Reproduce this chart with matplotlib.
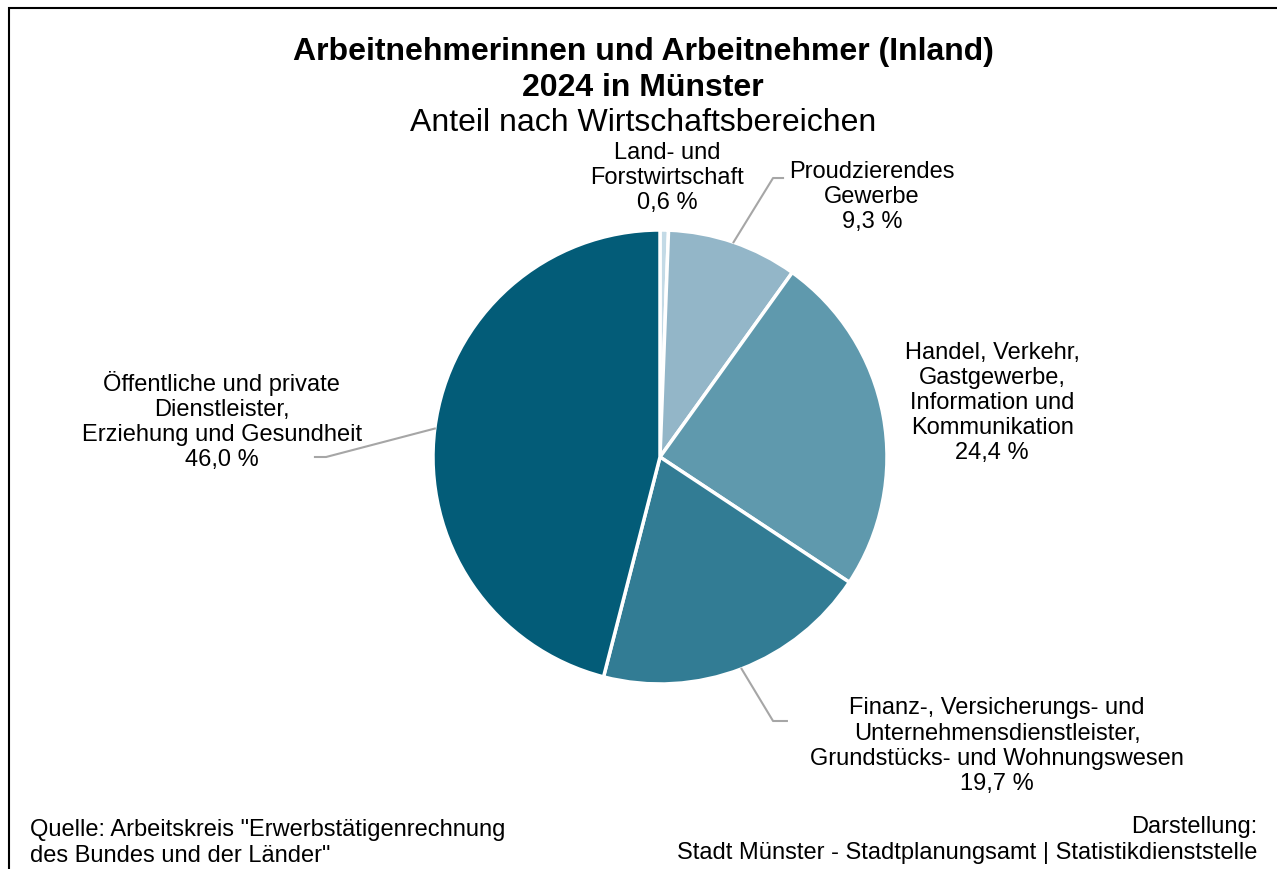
import numpy as np
import matplotlib.pyplot as plt
from matplotlib.patches import Rectangle

plt.rcParams['font.family'] = ['Liberation Sans', 'DejaVu Sans']

# data
labels = ['Land- und\nForstwirtschaft',
          'Proudzierendes\nGewerbe',
          'Handel, Verkehr,\nGastgewerbe,\nInformation und\nKommunikation',
          'Finanz-, Versicherungs- und\nUnternehmensdienstleister,\nGrundstücks- und Wohnungswesen',
          'Öffentliche und private\nDienstleister,\nErziehung und Gesundheit']
shares = [0.6, 9.3, 24.4, 19.7, 46.0]
colors = ['#c3dae6', '#93b6c8', '#5f99ad', '#327c94', '#035c78']

# label centre positions (data units, pie radius = 1)
label_pos = [(0.031, 1.233), (0.934, 1.150), (1.463, 0.242), (1.485, -1.269), (-1.930, 0.163)]
# elbow / end points of leader lines (None = no leader)
leaders = [None,
           [(0.498, 1.229), (0.542, 1.229)],
           None,
           [(0.498, -1.163), (0.559, -1.163)],
           [(-1.471, 0.0), (-1.520, 0.0)]]

W, H = 1277, 870
fig = plt.figure(figsize=(W / 100, H / 100), dpi=100)

# frame (left and top visible)
fig.patches.append(Rectangle((9 / W, -0.05), 1.2, 1 - 9 / H + 0.05, transform=fig.transFigure,
                             fill=False, edgecolor='black', linewidth=1.5))

cx, cy, r = 660, 458, 227
ax = fig.add_axes([(cx - r) / W, (H - cy - r) / H, 2 * r / W, 2 * r / H])
wedges, _ = ax.pie(shares, colors=colors, startangle=90, counterclock=False, radius=1,
                   wedgeprops=dict(edgecolor='white', linewidth=2.5))
ax.set_xlim(-1, 1)
ax.set_ylim(-1, 1)
ax.set_aspect('equal')
ax.axis('off')

for i, w in enumerate(wedges):
    mid = np.deg2rad((w.theta1 + w.theta2) / 2)
    txt = labels[i] + '\n' + ('%.1f %%' % shares[i]).replace('.', ',')
    ax.text(label_pos[i][0], label_pos[i][1], txt, ha='center', va='center',
            multialignment='center', fontsize=17, linespacing=1.18, clip_on=False)
    if leaders[i] is not None:
        xs = [np.cos(mid)] + [p[0] for p in leaders[i]]
        ys = [np.sin(mid)] + [p[1] for p in leaders[i]]
        ax.plot(xs, ys, color='#a6a6a6', linewidth=1.5, clip_on=False)

fig.text(643 / W, 1 - 52 / H, 'Arbeitnehmerinnen und Arbeitnehmer (Inland)', ha='center', va='center',
         fontsize=23, fontweight='bold')
fig.text(643 / W, 1 - 88 / H, '2024 in Münster', ha='center', va='center',
         fontsize=23, fontweight='bold')
fig.text(643 / W, 1 - 123 / H, 'Anteil nach Wirtschaftsbereichen', ha='center', va='center',
         fontsize=23)

fig.text(30 / W, 1 - 843 / H, 'Quelle: Arbeitskreis "Erwerbstätigenrechnung\ndes Bundes und der Länder"',
         ha='left', va='center', fontsize=17, linespacing=1.2)
fig.text(1257 / W, 1 - 840 / H, 'Darstellung:\nStadt Münster - Stadtplanungsamt | Statistikdienststelle',
         ha='right', va='center', multialignment='right', fontsize=17, linespacing=1.2)

fig.savefig('out.png', dpi=100)
